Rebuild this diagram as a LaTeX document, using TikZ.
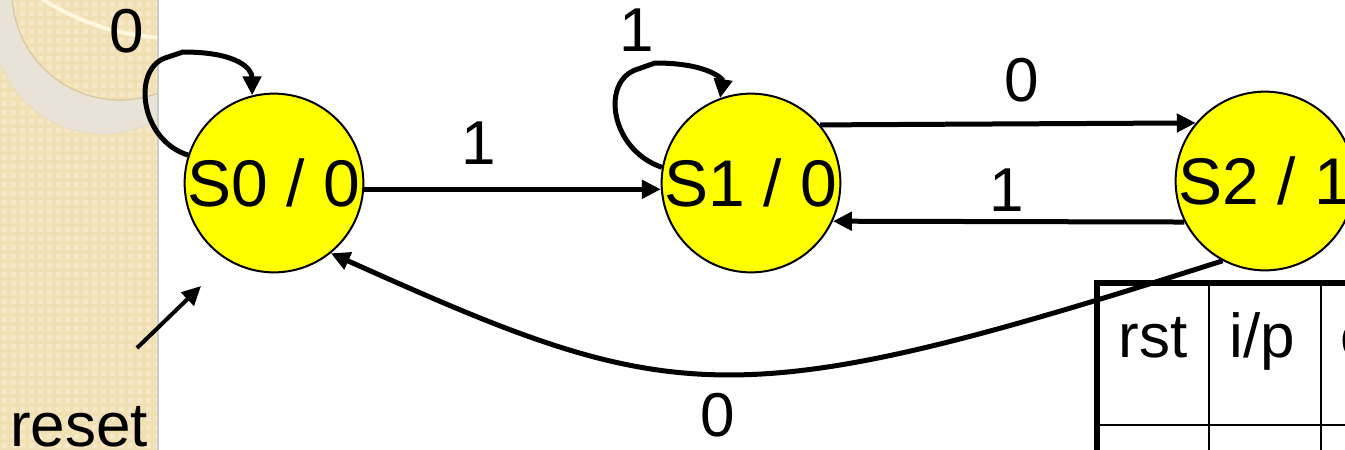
\documentclass[tikz,border=0pt]{standalone}
\usepackage{fontspec}
\setmainfont{Liberation Sans}
\usetikzlibrary{arrows.meta}
\definecolor{beige}{HTML}{F1E0B4}
\definecolor{beigelt}{HTML}{F6E8C6}
\definecolor{ringc}{HTML}{E8E3D6}
\definecolor{ringedge}{HTML}{D6C7A0}
\definecolor{creamline}{HTML}{FFF7DE}
\definecolor{stateyellow}{HTML}{FFFF00}
\begin{document}
\begin{tikzpicture}[x=1pt,y=-1pt,
  state/.style={circle,draw=black,line width=2pt,fill=stateyellow,minimum size=176pt,inner sep=0pt,font=\fontsize{66}{70}\selectfont},
  lbl/.style={inner sep=0pt,font=\fontsize{62}{66}\selectfont},
  arr/.style={line width=5pt,-{Triangle[length=19pt,width=18pt]}},
  tbl/.style={line width=2.5pt},
  tblthick/.style={line width=5.5pt,line join=miter}]
\useasboundingbox (0,0) rectangle (1345,450);
\clip (0,0) rectangle (1345,450);
% decorative strip
\begin{scope}
  \clip (0,0) rectangle (157,450);
  \fill[beige] (0,0) rectangle (157,450);
  \foreach \i in {0,...,17}{\foreach \j in {0,...,50}{\fill[beigelt] (\i*9+2,\j*9+2) rectangle +(5,5);}}
  \fill[ringc,even odd rule] (103,24) circle (110pt) (120,-8) circle (108pt);
  \draw[ringedge,line width=1.2pt] (120,-8) circle (108pt);
  \draw[ringedge!60,line width=1pt] (103,24) circle (110pt);
  \draw[creamline,line width=4pt] (174,-203) circle (241pt);
\end{scope}
\draw[black!20,line width=1.5pt] (158,0) -- (158,450);
% states
\node[state,minimum size=178pt] (S0) at (274,183) {S0 / 0};
\node[state] (S1) at (751,183) {S1 / 0};
\node[state] (S2) at (1265,181) {S2 / 1};
% table
\draw[tbl] (1209,283) -- (1209,450);
\draw[tbl] (1321,283) -- (1321,450);
\draw[tbl] (1097,425) -- (1345,425);
\draw[tblthick] (1097,450) -- (1097,283) -- (1345,283);
\node[lbl,anchor=base] (trst) at (1153,357) {rst};
\node[lbl,anchor=base] (tip) at (1262,357) {i/p};
\node[lbl,anchor=base west] (top) at (1340,357) {o/p};
% transitions
\draw[arr] (S0.162) .. controls (140,140) and (132,70) .. (165,58) -- (183,52) .. controls (240,52) and (252,70) .. (S0.104);
\draw[arr] (S1.170) .. controls (610,150) and (600,80) .. (638,69) -- (655,63) .. controls (710,63) and (723,80) .. (S1.110);
\draw[arr] (S0.-4) -- (S1.184);
\draw[arr] (S1.40) -- (S2.140);
\draw[arr] (S2.207) -- (S1.-25.6);
\draw[arr] (S2.242) .. controls (728,419) and (674,407) .. (S0.-51);
\coordinate (rs1) at (137,348);
\coordinate (rs2) at (201,286);
\draw[arr,line width=4pt] (rs1) -- (rs2);
% labels
\node[lbl] (l0a) at (127,31) {0};
\node[lbl] (l1a) at (637,30) {1};
\node[lbl] (l1b) at (479,143) {1};
\node[lbl] (l0b) at (1022,80) {0};
\node[lbl] (l1c) at (1007,190) {1};
\node[lbl] (l0c) at (718,415) {0};
\node[lbl,anchor=base] (lrst) at (79,446) {reset};
\end{tikzpicture}
\end{document}
